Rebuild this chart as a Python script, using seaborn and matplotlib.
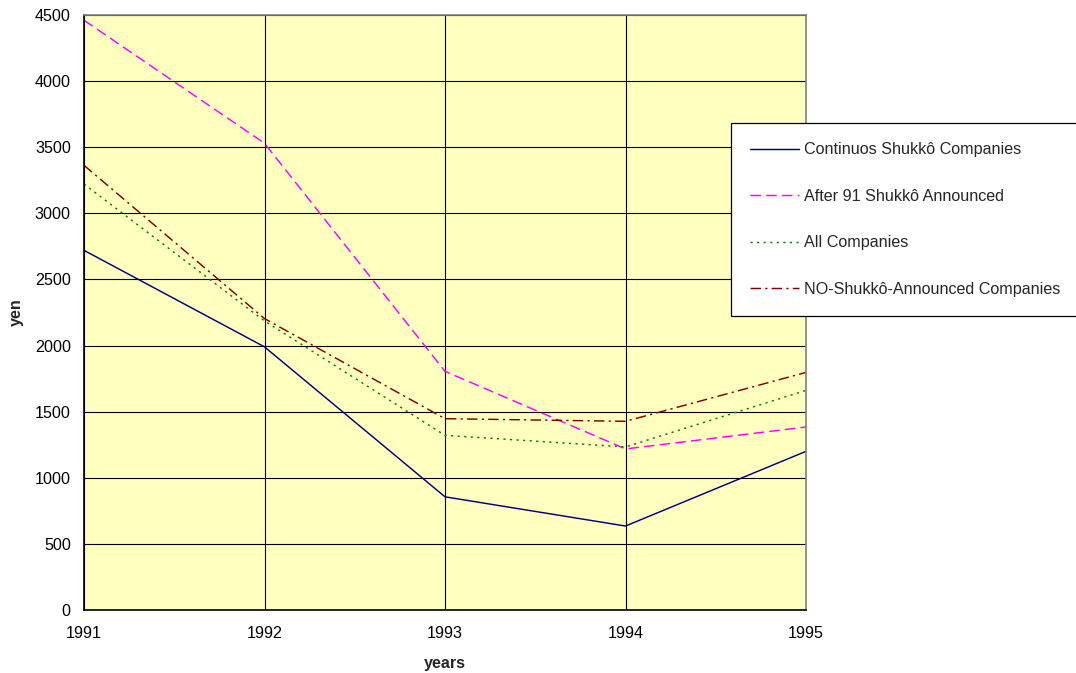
import pandas as pd
import matplotlib
matplotlib.use("Agg")
import matplotlib.pyplot as plt
import seaborn as sns

# --- data ---
years = [1991, 1992, 1993, 1994, 1995]
continuos_shukko = [2720, 1990, 856, 635, 1200]
after_91_shukko = [4460, 3530, 1805, 1218, 1384]
all_companies = [3221, 2186, 1321, 1233, 1661]
no_shukko = [3363, 2204, 1447, 1427, 1797]

series_names = [
    "Continuos Shukkô Companies",
    "After 91 Shukkô Announced",
    "All Companies",
    "NO-Shukkô-Announced Companies",
]
series_values = [continuos_shukko, after_91_shukko, all_companies, no_shukko]
colors = ["#000080", "#FF00FF", "#008000", "#800000"]
dashes = [None, (7.2, 3.6), (1.5, 3.0), (7.2, 2.9, 1.5, 2.9)]

rows = []
for name, vals in zip(series_names, series_values):
    for yr, v in zip(years, vals):
        rows.append({"year": yr, "yen": v, "series": name})
df = pd.DataFrame(rows)

sns.set_style("white")
plt.rcParams['font.family'] = ['Liberation Sans', 'DejaVu Sans']
fs = 11.6

fig = plt.figure(figsize=(10.76, 6.73), dpi=100)
ax = fig.add_axes([84 / 1076, 1 - 610 / 673, (806 - 84) / 1076, (610 - 15) / 673])
ax.set_facecolor("#FFFFC0")

for name, col, d in zip(series_names, colors, dashes):
    sub = df[df["series"] == name]
    sns.lineplot(data=sub, x="year", y="yen", ax=ax, color=col,
                 linewidth=1.05, label=name)
    if d is not None:
        ax.lines[-1].set_dashes(d)

ax.set_xlim(1991, 1995)
ax.set_ylim(0, 4500)
ax.set_xticks(years)
ax.set_xticklabels([str(y) for y in years])
ax.set_yticks(range(0, 4501, 500))
ax.grid(True, color="black", linewidth=0.8)
ax.set_axisbelow(True)

ax.tick_params(axis="both", direction="inout", length=9, width=0.9,
               labelsize=fs, colors="black")
ax.tick_params(axis="x", pad=7)
ax.tick_params(axis="y", pad=5)
for side in ["left", "bottom"]:
    ax.spines[side].set_color("black")
    ax.spines[side].set_linewidth(1.2)
for side in ["top", "right"]:
    ax.spines[side].set_color("#808080")
    ax.spines[side].set_linewidth(1.2)

ax.set_xlabel("years", fontsize=fs, fontweight="bold", labelpad=11)
ax.set_ylabel("yen", fontsize=fs, fontweight="bold", labelpad=8)

ax.get_legend().remove()
handles, labels = ax.get_legend_handles_labels()
leg_x0 = 731 / 1076
leg_top = 1 - 123 / 673
leg = fig.legend(handles, labels, loc="upper left",
                 bbox_to_anchor=(leg_x0, leg_top - 0.3, 1 - leg_x0 + 0.01, 0.3),
                 mode="expand",
                 fontsize=fs, frameon=True, fancybox=False,
                 edgecolor="black", framealpha=1,
                 handlelength=3.05, handletextpad=0.25,
                 labelspacing=1.95, borderpad=1.2, borderaxespad=0)
leg.get_frame().set_linewidth(0.9)

fig.savefig("out.png", dpi=100, facecolor="white")
